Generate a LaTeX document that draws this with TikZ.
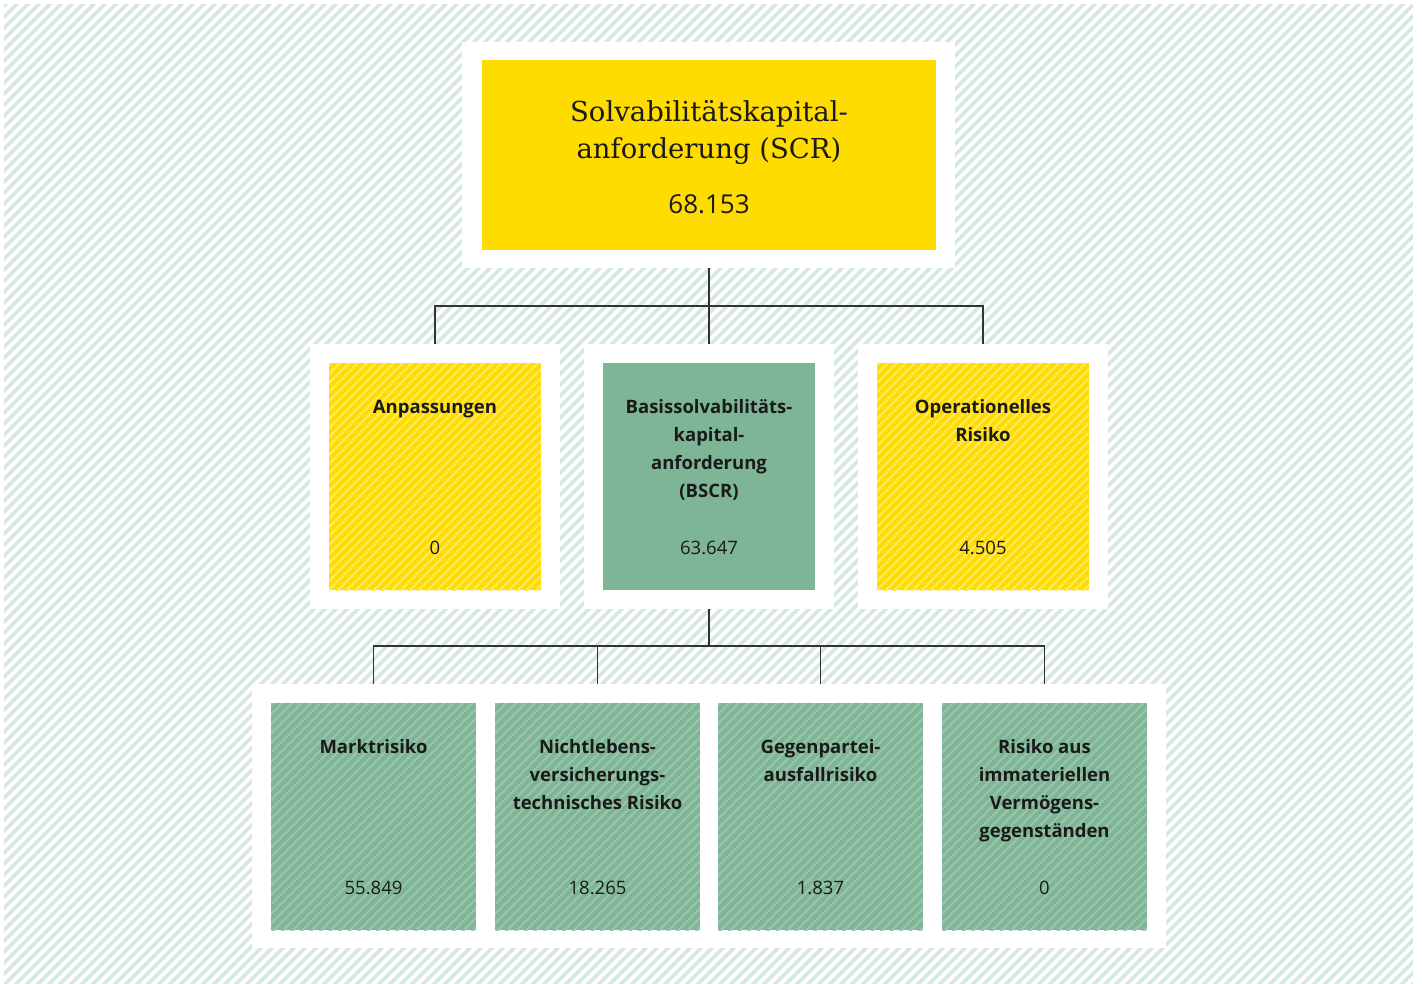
\documentclass[tikz,border=0pt]{standalone}
\usepackage{fontspec}
\setmainfont{DejaVu Serif}
\newfontfamily\osans{Open Sans}
\definecolor{bgstripe}{HTML}{D6E9DE}
\definecolor{ylw}{HTML}{FFDC00}
\definecolor{ylwstripe}{HTML}{FFEA55}
\definecolor{grn}{HTML}{7EB596}
\definecolor{grnstripe}{HTML}{97C4AA}
\definecolor{txt}{HTML}{1A1A1A}
\definecolor{conncol}{HTML}{333333}
\newcommand\hatchrect[7]{% x1,y1,x2,y2,period,width,color
  \begin{scope}
    \clip (#1,#2) rectangle (#3,#4);
    \pgfmathsetmacro\hh{#4-#2}
    \pgfmathsetmacro\xs{#1-\hh}
    \pgfmathsetmacro\xn{\xs+#5}
    \pgfmathsetmacro\xe{#3}
    \foreach \s in {\xs,\xn,...,\xe}{
      \draw[line width=#6, #7] (\s,#4+2) -- ++(\hh+4,-\hh-4);
    }
  \end{scope}}
\tikzset{
  conn/.style={draw=conncol, line width=1.4pt},
  lbl/.style={font=\osans\bfseries\fontsize{18.5}{28}\selectfont, text=txt, inner sep=0, anchor=base},
  num/.style={font=\osans\fontsize{18.5}{24}\selectfont, text=txt, inner sep=0, anchor=base},
}
\newcommand\lbltext[1]{\parbox[t]{200pt}{\centering #1}}
\begin{document}
\begin{tikzpicture}[x=1pt,y=-1pt]
\useasboundingbox (0,0) rectangle (1422,983);
% background hatch
\hatchrect{4}{4}{1413}{983}{11}{3.6pt}{bgstripe}
% top
\fill[white] (462,42) rectangle (955,268);
\node[inner sep=0, minimum width=493pt, minimum height=226pt] (scrF) at (708.5,155) {};
\fill[ylw] (482,60) rectangle (936,250);
\node[inner sep=0, minimum width=454pt, minimum height=190pt] (scr) at (709,155) {};
\node[font=\fontsize{27.5}{37}\selectfont, text=txt, inner sep=0, anchor=base] (scrT) at (709,121) {\parbox[t]{440pt}{\centering Solvabilitätskapital-\\anforderung (SCR)}};
\node[font=\osans\fontsize{26}{32}\selectfont, text=txt, inner sep=0, anchor=base] (scrN) at (709,213) {68.153};
% middle frames
\foreach \cx/\nm in {435/anp,709/bscr,983/opr}{
  \fill[white] (\cx-125,344) rectangle (\cx+125,609);
  \node[inner sep=0, minimum width=250pt, minimum height=265pt] (\nm F) at (\cx,476.5) {};
}
\fill[ylw] (329,363) rectangle (541,590);
\hatchrect{329}{363}{541}{590}{9}{2.2pt}{ylwstripe}
\fill[grn] (603,363) rectangle (815,590);
\fill[ylw] (877,363) rectangle (1089,590);
\hatchrect{877}{363}{1089}{590}{9}{2.2pt}{ylwstripe}
\node[inner sep=0, minimum width=212pt, minimum height=227pt] (anp) at (435,476.5) {};
\node[inner sep=0, minimum width=212pt, minimum height=227pt] (bscr) at (709,476.5) {};
\node[inner sep=0, minimum width=212pt, minimum height=227pt] (opr) at (983,476.5) {};
\node[lbl] (anpT) at (435,413) {\lbltext{Anpassungen}};
\node[lbl] (bscrT) at (709,413) {\lbltext{Basissolvabilitäts-\\kapital-\\anforderung\\(BSCR)}};
\node[lbl] (oprT) at (983,413) {\lbltext{Operationelles\\Risiko}};
\node[num] (anpN) at (435,554.5) {0};
\node[num] (bscrN) at (709,554.5) {63.647};
\node[num] (oprN) at (983,554.5) {4.505};
% bottom frame
\fill[white] (252,684) rectangle (1166,948);
\node[inner sep=0, minimum width=914pt, minimum height=264pt] (botF) at (709,816) {};
\foreach \x/\nm in {271/mkt,495/nl,718/gp,942/im}{
  \pgfmathsetmacro\xr{\x+205}
  \fill[grn] (\x,703) rectangle (\xr,930);
  \hatchrect{\x}{703}{\xr}{930}{9.5}{2.2pt}{grnstripe}
  \node[inner sep=0, minimum width=205pt, minimum height=227pt] (\nm) at (\x+102.5,816.5) {};
}
\node[lbl] (mktT) at (373.5,753) {\lbltext{Marktrisiko}};
\node[lbl] (nlT) at (597.5,753) {\lbltext{Nichtlebens-\\versicherungs-\\technisches Risiko}};
\node[lbl] (gpT) at (820.5,753) {\lbltext{Gegenpartei-\\ausfallrisiko}};
\node[lbl] (imT) at (1044.5,753) {\lbltext{Risiko aus\\immateriellen\\Vermögens-\\gegenständen}};
\node[num] (mktN) at (373.5,894.5) {55.849};
\node[num] (nlN) at (597.5,894.5) {18.265};
\node[num] (gpN) at (820.5,894.5) {1.837};
\node[num] (imN) at (1044.5,894.5) {0};
% connectors
\coordinate (j1) at (709,306);
\coordinate (j2) at (709,646);
\draw[conn] (j1 |- scrF.south) -- (j1);
\draw[conn] (j1) -| (anpF.north);
\draw[conn] (j1) -| (oprF.north);
\draw[conn] (j1) -- (bscrF.north);
\draw[conn] (bscrF.south) -- (j2);
\draw[conn] (j2) -| (mkt.north |- botF.north);
\draw[conn] (j2) -| (nl.north |- botF.north);
\draw[conn] (j2) -| (gp.north |- botF.north);
\draw[conn] (j2) -| (im.north |- botF.north);
\end{tikzpicture}
\end{document}
